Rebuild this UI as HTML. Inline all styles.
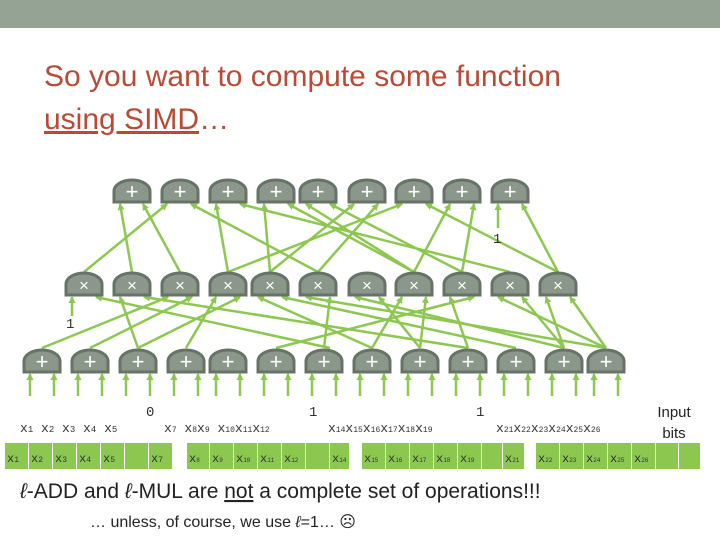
<!DOCTYPE html>
<html><head><style>
body{margin:0;width:720px;height:540px;overflow:hidden;background:#fff;font-family:"Liberation Sans",sans-serif;position:relative}
.bar{position:absolute;left:0;top:0;width:720px;height:28px;background:#95a395}
.t{position:absolute;left:44px;color:#b84a36;font-size:30px;line-height:44px}
</style></head><body>
<div class="bar"></div>
<div class="t" style="top:55px">So you want to compute some function</div>
<div class="t" style="top:98px"><span style="text-decoration:underline">using SIMD</span>…</div>
<svg width="720" height="540" style="position:absolute;left:0;top:0">
<defs><marker id="a" markerUnits="userSpaceOnUse" markerWidth="7" markerHeight="7" refX="6" refY="3.5" orient="auto"><path d="M0,0L7,3.5L0,7z" fill="#8cc850"/></marker>
<g id="g"><path d="M-18,11V0A18,11 0 0 1 18,0V11Z" fill="#8a978a" stroke="#677367" stroke-width="3"/></g></defs>
<g stroke="#8cc850" stroke-width="2.5" fill="none" marker-end="url(#a)">
<line x1="132" y1="272" x2="120" y2="204"/><line x1="180" y1="272" x2="143" y2="204"/>
<line x1="84" y1="272" x2="167" y2="204"/><line x1="318" y1="272" x2="191" y2="204"/>
<line x1="228" y1="272" x2="216" y2="204"/><line x1="510" y1="272" x2="240" y2="204"/>
<line x1="270" y1="272" x2="264" y2="204"/><line x1="414" y1="272" x2="288" y2="204"/>
<line x1="414" y1="272" x2="306" y2="204"/><line x1="462" y1="272" x2="330" y2="204"/>
<line x1="270" y1="272" x2="354" y2="204"/><line x1="318" y1="272" x2="378" y2="204"/>
<line x1="228" y1="272" x2="402" y2="204"/><line x1="558" y1="272" x2="426" y2="204"/>
<line x1="414" y1="272" x2="450" y2="204"/><line x1="462" y1="272" x2="474" y2="204"/>
<line x1="498" y1="228" x2="498" y2="204"/><line x1="558" y1="272" x2="522" y2="204"/>
<line x1="72" y1="316" x2="72" y2="297"/><line x1="330" y1="348" x2="96" y2="297"/>
<line x1="138" y1="348" x2="120" y2="297"/><line x1="468" y1="348" x2="144" y2="297"/>
<line x1="42" y1="348" x2="168" y2="297"/><line x1="90" y1="348" x2="192" y2="297"/>
<line x1="186" y1="348" x2="216" y2="297"/><line x1="138" y1="348" x2="240" y2="297"/>
<line x1="372" y1="348" x2="258" y2="297"/><line x1="516" y1="348" x2="282" y2="297"/>
<line x1="606" y1="348" x2="306" y2="297"/><line x1="324" y1="348" x2="330" y2="297"/>
<line x1="564" y1="348" x2="355" y2="297"/><line x1="420" y1="348" x2="379" y2="297"/>
<line x1="372" y1="348" x2="402" y2="297"/><line x1="420" y1="348" x2="426" y2="297"/>
<line x1="468" y1="348" x2="450" y2="297"/><line x1="276" y1="348" x2="474" y2="297"/>
<line x1="606" y1="348" x2="498" y2="297"/><line x1="564" y1="348" x2="522" y2="297"/>
<line x1="564" y1="348" x2="546" y2="297"/><line x1="606" y1="348" x2="570" y2="297"/>
<line x1="30" y1="396" x2="30" y2="374"/><line x1="54" y1="396" x2="54" y2="374"/><line x1="78" y1="396" x2="78" y2="374"/><line x1="102" y1="396" x2="102" y2="374"/><line x1="126" y1="396" x2="126" y2="374"/><line x1="150" y1="396" x2="150" y2="374"/><line x1="174" y1="396" x2="174" y2="374"/><line x1="198" y1="396" x2="198" y2="374"/><line x1="216" y1="396" x2="216" y2="374"/><line x1="240" y1="396" x2="240" y2="374"/><line x1="264" y1="396" x2="264" y2="374"/><line x1="288" y1="396" x2="288" y2="374"/><line x1="312" y1="396" x2="312" y2="374"/><line x1="336" y1="396" x2="336" y2="374"/><line x1="360" y1="396" x2="360" y2="374"/><line x1="384" y1="396" x2="384" y2="374"/><line x1="408" y1="396" x2="408" y2="374"/><line x1="432" y1="396" x2="432" y2="374"/><line x1="456" y1="396" x2="456" y2="374"/><line x1="480" y1="396" x2="480" y2="374"/><line x1="504" y1="396" x2="504" y2="374"/><line x1="528" y1="396" x2="528" y2="374"/><line x1="552" y1="396" x2="552" y2="374"/><line x1="576" y1="396" x2="576" y2="374"/><line x1="594" y1="396" x2="594" y2="374"/><line x1="618" y1="396" x2="618" y2="374"/>
</g>
<g>
<use href="#g" x="132" y="191"/><use href="#g" x="180" y="191"/><use href="#g" x="228" y="191"/><use href="#g" x="276" y="191"/><use href="#g" x="318" y="191"/><use href="#g" x="367" y="191"/><use href="#g" x="414" y="191"/><use href="#g" x="462" y="191"/><use href="#g" x="510" y="191"/>
<use href="#g" x="84" y="284"/><use href="#g" x="132" y="284"/><use href="#g" x="180" y="284"/><use href="#g" x="228" y="284"/><use href="#g" x="270" y="284"/><use href="#g" x="318" y="284"/><use href="#g" x="367" y="284"/><use href="#g" x="414" y="284"/><use href="#g" x="462" y="284"/><use href="#g" x="510" y="284"/><use href="#g" x="558" y="284"/>
<use href="#g" x="42" y="361"/><use href="#g" x="90" y="361"/><use href="#g" x="138" y="361"/><use href="#g" x="186" y="361"/><use href="#g" x="228" y="361"/><use href="#g" x="276" y="361"/><use href="#g" x="324" y="361"/><use href="#g" x="372" y="361"/><use href="#g" x="420" y="361"/><use href="#g" x="468" y="361"/><use href="#g" x="516" y="361"/><use href="#g" x="564" y="361"/><use href="#g" x="606" y="361"/>
</g>
<g fill="#fff" font-size="22" text-anchor="middle" font-family="Liberation Sans">
<text x="132" y="199">+</text><text x="180" y="199">+</text><text x="228" y="199">+</text><text x="276" y="199">+</text><text x="318" y="199">+</text><text x="367" y="199">+</text><text x="414" y="199">+</text><text x="462" y="199">+</text><text x="510" y="199">+</text>
<text x="42" y="369">+</text><text x="90" y="369">+</text><text x="138" y="369">+</text><text x="186" y="369">+</text><text x="228" y="369">+</text><text x="276" y="369">+</text><text x="324" y="369">+</text><text x="372" y="369">+</text><text x="420" y="369">+</text><text x="468" y="369">+</text><text x="516" y="369">+</text><text x="564" y="369">+</text><text x="606" y="369">+</text>
</g>
<g fill="#fff" font-size="17" text-anchor="middle">
<text x="84" y="291">×</text><text x="132" y="291">×</text><text x="180" y="291">×</text><text x="228" y="291">×</text><text x="270" y="291">×</text><text x="318" y="291">×</text><text x="367" y="291">×</text><text x="414" y="291">×</text><text x="462" y="291">×</text><text x="510" y="291">×</text><text x="558" y="291">×</text>
</g>
<g fill="#333" font-size="14" font-family="Liberation Mono">
<text x="493" y="243">1</text><text x="66" y="328">1</text><text x="146" y="416">0</text><text x="309" y="416">1</text><text x="476" y="416">1</text>
</g>
<g fill="#333" font-size="13" font-family="Liberation Mono">
<text x="20" y="432">x<tspan font-size="9">1</tspan> x<tspan font-size="9">2</tspan> x<tspan font-size="9">3</tspan> x<tspan font-size="9">4</tspan>  x<tspan font-size="9">5</tspan></text>
<text x="164" y="432">x<tspan font-size="8">7</tspan> x<tspan font-size="8">8</tspan>x<tspan font-size="8">9</tspan> x<tspan font-size="8">10</tspan>x<tspan font-size="8">11</tspan>x<tspan font-size="8">12</tspan></text>
<text x="328" y="432">x<tspan font-size="8">14</tspan>x<tspan font-size="8">15</tspan>x<tspan font-size="8">16</tspan>x<tspan font-size="8">17</tspan>x<tspan font-size="8">18</tspan>x<tspan font-size="8">19</tspan></text>
<text x="496" y="432">x<tspan font-size="8">21</tspan>x<tspan font-size="8">22</tspan>x<tspan font-size="8">23</tspan>x<tspan font-size="8">24</tspan>x<tspan font-size="8">25</tspan>x<tspan font-size="8">26</tspan></text>
</g>
<text x="674" y="417" font-size="15" text-anchor="middle" fill="#222">Input</text>
<text x="674" y="438" font-size="15" text-anchor="middle" fill="#222">bits</text>
<g fill="#8cc850">
<rect x="5" y="443" width="23" height="26"/><rect x="29" y="443" width="23" height="26"/><rect x="53" y="443" width="23" height="26"/><rect x="77" y="443" width="23" height="26"/><rect x="101" y="443" width="23" height="26"/><rect x="125" y="443" width="23" height="26"/><rect x="149" y="443" width="23" height="26"/>
<rect x="187" y="443" width="22" height="26"/><rect x="210" y="443" width="23" height="26"/><rect x="234" y="443" width="23" height="26"/><rect x="258" y="443" width="23" height="26"/><rect x="282" y="443" width="23" height="26"/><rect x="306" y="443" width="23" height="26"/><rect x="330" y="443" width="19" height="26"/>
<rect x="362" y="443" width="23" height="26"/><rect x="386" y="443" width="23" height="26"/><rect x="410" y="443" width="23" height="26"/><rect x="434" y="443" width="23" height="26"/><rect x="458" y="443" width="23" height="26"/><rect x="482" y="443" width="20" height="26"/><rect x="503" y="443" width="21" height="26"/>
<rect x="536" y="443" width="23" height="26"/><rect x="560" y="443" width="23" height="26"/><rect x="584" y="443" width="23" height="26"/><rect x="608" y="443" width="23" height="26"/><rect x="632" y="443" width="23" height="26"/><rect x="656" y="443" width="22" height="26"/><rect x="679" y="443" width="21" height="26"/>
</g>
<g fill="#333" font-size="12" font-family="Liberation Mono">
<text x="7" y="462">x<tspan font-size="8">1</tspan></text><text x="31" y="462">x<tspan font-size="8">2</tspan></text><text x="55" y="462">x<tspan font-size="8">3</tspan></text><text x="79" y="462">x<tspan font-size="8">4</tspan></text><text x="103" y="462">x<tspan font-size="8">5</tspan></text><text x="151" y="462">x<tspan font-size="8">7</tspan></text>
<text x="189" y="462">x<tspan font-size="6">8</tspan></text><text x="212" y="462">x<tspan font-size="6">9</tspan></text><text x="236" y="462">x<tspan font-size="6">10</tspan></text><text x="260" y="462">x<tspan font-size="6">11</tspan></text><text x="284" y="462">x<tspan font-size="6">12</tspan></text><text x="332" y="462">x<tspan font-size="6">14</tspan></text>
<text x="364" y="462">x<tspan font-size="6">15</tspan></text><text x="388" y="462">x<tspan font-size="6">16</tspan></text><text x="412" y="462">x<tspan font-size="6">17</tspan></text><text x="436" y="462">x<tspan font-size="6">18</tspan></text><text x="460" y="462">x<tspan font-size="6">19</tspan></text><text x="505" y="462">x<tspan font-size="6">21</tspan></text>
<text x="538" y="462">x<tspan font-size="6">22</tspan></text><text x="562" y="462">x<tspan font-size="6">23</tspan></text><text x="586" y="462">x<tspan font-size="6">24</tspan></text><text x="610" y="462">x<tspan font-size="6">25</tspan></text><text x="634" y="462">x<tspan font-size="6">26</tspan></text>
</g>
<text x="20" y="498" font-size="21" fill="#222"><tspan font-style="italic">ℓ</tspan>-ADD  and <tspan font-style="italic">ℓ</tspan>-MUL are <tspan text-decoration="underline">not</tspan> a complete set of operations!!!</text>
<text x="90" y="527" font-size="16" fill="#222">… unless, of course, we use <tspan font-style="italic">ℓ</tspan>=1… ☹</text>
</svg>
</body></html>
